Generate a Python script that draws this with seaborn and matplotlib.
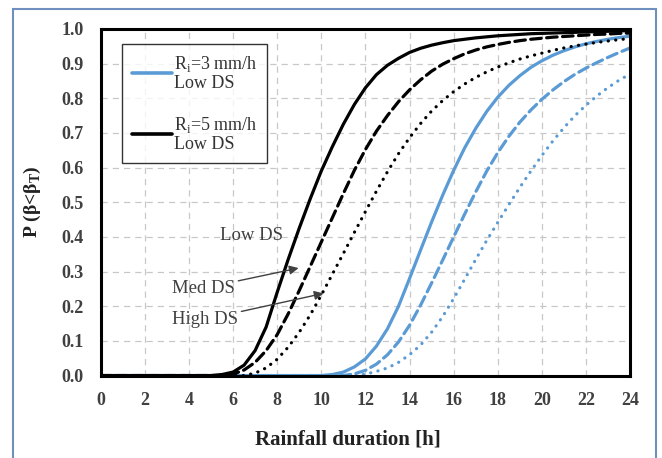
import numpy as np
import pandas as pd
import seaborn as sns
import matplotlib.pyplot as plt
from matplotlib.lines import Line2D
from matplotlib.patches import Rectangle

# rainfall duration [h], sampled every 0.5 h
duration = [i * 0.5 for i in range(49)]

# R_i = 5 mm/h
r5_low = [0]*10 + [0.000, 0.003, 0.010, 0.030, 0.072, 0.140, 0.240, 0.335, 0.425, 0.510,
                   0.590, 0.660, 0.725, 0.782, 0.830, 0.868, 0.895, 0.915, 0.932, 0.944,
                   0.953, 0.960, 0.966, 0.970, 0.974, 0.977, 0.980, 0.982, 0.984, 0.986,
                   0.987, 0.988, 0.989, 0.990, 0.991, 0.992, 0.993, 0.994, 0.995]
r5_med = [0]*11 + [0.000, 0.004, 0.016, 0.038, 0.072, 0.118, 0.178, 0.245, 0.315, 0.385,
                   0.455, 0.525, 0.592, 0.652, 0.705, 0.750, 0.790, 0.824, 0.853, 0.878,
                   0.898, 0.914, 0.928, 0.939, 0.948, 0.955, 0.961, 0.966, 0.970, 0.973,
                   0.976, 0.978, 0.980, 0.982, 0.984, 0.985, 0.987, 0.988]
r5_high = [0]*13 + [0.000, 0.007, 0.022, 0.047, 0.082, 0.125, 0.175, 0.232, 0.292, 0.352,
                    0.413, 0.473, 0.532, 0.588, 0.640, 0.686, 0.727, 0.763, 0.793, 0.819,
                    0.841, 0.860, 0.876, 0.890, 0.902, 0.913, 0.922, 0.930, 0.938, 0.945,
                    0.951, 0.956, 0.961, 0.965, 0.969, 0.972]

# R_i = 3 mm/h
r3_low = [0]*20 + [0.000, 0.003, 0.010, 0.025, 0.048, 0.085, 0.135, 0.200, 0.280, 0.362,
                   0.443, 0.520, 0.592, 0.657, 0.713, 0.762, 0.803, 0.837, 0.865, 0.889,
                   0.908, 0.924, 0.937, 0.948, 0.957, 0.964, 0.970, 0.975, 0.979]
r3_med = [0]*22 + [0.000, 0.005, 0.015, 0.033, 0.060, 0.097, 0.145, 0.203, 0.267, 0.333,
                   0.400, 0.466, 0.530, 0.590, 0.643, 0.690, 0.731, 0.766, 0.797, 0.824,
                   0.848, 0.869, 0.887, 0.903, 0.918, 0.932, 0.945]
r3_high = [0]*23 + [0.000, 0.004, 0.012, 0.022, 0.038, 0.060, 0.088, 0.125, 0.170, 0.222,
                    0.278, 0.335, 0.390, 0.442, 0.493, 0.543, 0.590, 0.635, 0.677, 0.715,
                    0.750, 0.780, 0.807, 0.831, 0.852, 0.870]

blue = "#5b9bd5"
dashed = (0, (3.3, 1.7))
dotted = (0, (0.05, 2.3))
curves = [
    (r3_low, blue, "-"), (r3_med, blue, dashed), (r3_high, blue, dotted),
    (r5_low, "black", "-"), (r5_med, "black", dashed), (r5_high, "black", dotted),
]

sns.set_style("white")
plt.rcParams["font.family"] = ["Liberation Serif", "DejaVu Serif"]
plt.rcParams["mathtext.fontset"] = "custom"
plt.rcParams["mathtext.rm"] = "Liberation Serif"
plt.rcParams["mathtext.bf"] = "Liberation Serif:bold"

fig = plt.figure(figsize=(6.62, 4.58), dpi=100)
ax = fig.add_axes([0.152, 0.18, 0.8, 0.757])

for vals, col, ls in curves:
    df = pd.DataFrame({"duration": duration, "p": vals})
    sns.lineplot(data=df, x="duration", y="p", ax=ax, color=col, linestyle=ls,
                 lw=2.3, dash_capstyle="round", sort=False, zorder=3)

ax.set_xlim(0, 24)
ax.set_ylim(0, 1.0)
ax.set_xticks(np.arange(0, 25, 2))
ax.set_yticks(np.arange(0, 1.01, 0.1))
ax.set_yticklabels([f"{v:.1f}" for v in np.arange(0, 1.01, 0.1)])
ax.grid(True, color="#c8c8c8", linestyle=(0, (5, 4)), lw=0.9)
for s in ax.spines.values():
    s.set_color("black")
    s.set_linewidth(2.2)
    s.set_zorder(4)
ax.tick_params(axis="both", labelsize=13, labelcolor="#404040", color="#909090",
               length=4, width=1, direction="out")
ax.tick_params(axis="y", pad=8)
ax.tick_params(axis="x", length=0, pad=12)
for lab in ax.get_xticklabels() + ax.get_yticklabels():
    lab.set_fontweight("bold")

ax.set_xlabel("Rainfall duration [h]", fontsize=15, fontweight="bold", color="#222222")
ax.xaxis.set_label_coords(0.466, -0.155)
ax.set_ylabel(r"P (β<β$_{\mathbf{T}}$)", fontsize=14, fontweight="bold", color="#222222")
ax.yaxis.set_label_coords(-0.108, 0.5)

handles = [Line2D([], [], color=blue, lw=2.6), Line2D([], [], color="black", lw=2.6)]
labels = ["R$_\\mathrm{i}$=3 mm/h\nLow DS", "R$_\\mathrm{i}$=5 mm/h\nLow DS"]
leg = ax.legend(handles, labels, loc="upper left", bbox_to_anchor=(0.041, 0.956),
                borderaxespad=0, fontsize=13, frameon=True, fancybox=False,
                handlelength=2.2, handletextpad=0.1, labelspacing=1.3, borderpad=0.55)
leg.get_frame().set_edgecolor("black")
leg.get_frame().set_linewidth(1.0)
for t in leg.get_texts():
    t.set_color("#333333")
    t.set_linespacing(1.05)

ann = dict(fontsize=13.5, color="#404040")
ax.text(5.42, 0.405, "Low DS", va="center", ha="left", **ann)
ax.annotate("Med DS", xy=(8.97, 0.31), xytext=(3.24, 0.252), va="center", ha="left",
            arrowprops=dict(arrowstyle="-|>", color="#404040", lw=1.0, shrinkA=0, shrinkB=0),
            **ann)
ax.annotate("High DS", xy=(10.1, 0.237), xytext=(3.24, 0.162), va="center", ha="left",
            arrowprops=dict(arrowstyle="-|>", color="#404040", lw=1.0, shrinkA=0, shrinkB=0),
            **ann)

fig.patches.append(Rectangle((12.5 / 662, -0.1), (656 - 12.5) / 662, 1.1 - 9 / 458,
                             transform=fig.transFigure, fill=False, edgecolor="#6f8fbf",
                             lw=1.5))

fig.savefig("out.png", dpi=100, facecolor="white")
